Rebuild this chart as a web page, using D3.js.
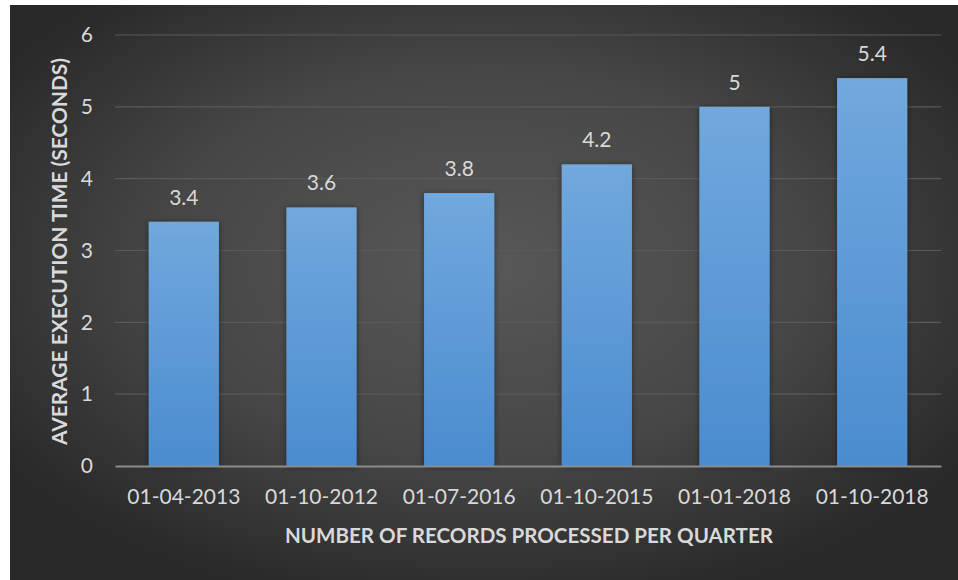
<!DOCTYPE html>
<html>
<head>
<meta charset="utf-8">
<script src="https://cdn.jsdelivr.net/npm/d3@7"></script>
<style>
  html, body { margin: 0; padding: 0; background: #ffffff; }
  svg { display: block; }
  text { font-family: Lato, "Open Sans", sans-serif; }
</style>
</head>
<body>
<svg id="chart" width="958" height="580"></svg>
<script>
// Quarterly average execution time
const categories = ["01-04-2013", "01-10-2012", "01-07-2016", "01-10-2015", "01-01-2018", "01-10-2018"];
const values = [3.4, 3.6, 3.8, 4.2, 5, 5.4];
const yTicks = [0, 1, 2, 3, 4, 5, 6];
const xTitle = "NUMBER OF RECORDS PROCESSED PER QUARTER";
const yTitle = "AVERAGE EXECUTION TIME (SECONDS)";

const svg = d3.select("#chart");
const W = 958, H = 580;
const panel = { x: 10, y: 5, w: W - 10, h: H - 5 };
const plot = { left: 115, right: 941, top: 35, bottom: 466 };

const defs = svg.append("defs");

// dark panel with a soft lighter centre
const bg = defs.append("radialGradient")
  .attr("id", "bgGrad")
  .attr("cx", "50%").attr("cy", "45%").attr("r", "62%");
bg.append("stop").attr("offset", "0%").attr("stop-color", "#585858");
bg.append("stop").attr("offset", "55%").attr("stop-color", "#464646");
bg.append("stop").attr("offset", "100%").attr("stop-color", "#282828");

const barGrad = defs.append("linearGradient")
  .attr("id", "barGrad")
  .attr("x1", 0).attr("y1", 0).attr("x2", 0).attr("y2", 1);
barGrad.append("stop").attr("offset", "0%").attr("stop-color", "#71a8dd");
barGrad.append("stop").attr("offset", "100%").attr("stop-color", "#4a8ccf");

const shadow = defs.append("filter")
  .attr("id", "barShadow")
  .attr("x", "-30%").attr("y", "-10%").attr("width", "160%").attr("height", "130%");
shadow.append("feGaussianBlur").attr("in", "SourceAlpha").attr("stdDeviation", 3).attr("result", "blur");
shadow.append("feOffset").attr("in", "blur").attr("dx", 0).attr("dy", 1).attr("result", "off");
shadow.append("feComponentTransfer").attr("in", "off").attr("result", "soft")
  .append("feFuncA").attr("type", "linear").attr("slope", 0.45);
const merge = shadow.append("feMerge");
merge.append("feMergeNode").attr("in", "soft");
merge.append("feMergeNode").attr("in", "SourceGraphic");

svg.append("rect")
  .attr("x", panel.x).attr("y", panel.y)
  .attr("width", panel.w).attr("height", panel.h)
  .attr("fill", "url(#bgGrad)");

const x = d3.scaleBand()
  .domain(categories)
  .range([plot.left, plot.right])
  .paddingInner(0.49)
  .paddingOuter(0.245);

const y = d3.scaleLinear()
  .domain([0, 6])
  .range([plot.bottom, plot.top]);

// horizontal gridlines
svg.append("g")
  .selectAll("line")
  .data(yTicks.filter(t => t > 0))
  .join("line")
  .attr("x1", plot.left).attr("x2", plot.right)
  .attr("y1", d => y(d)).attr("y2", d => y(d))
  .attr("stroke", "#5a5a5a")
  .attr("stroke-width", 1.2);

// y axis labels
const yAxis = svg.append("g")
  .attr("transform", `translate(${plot.left},0)`)
  .call(d3.axisLeft(y).tickValues(yTicks).tickSize(0).tickPadding(22).tickFormat(d3.format("d")));
yAxis.select(".domain").remove();
yAxis.selectAll("text")
  .attr("fill", "#d9d9d9")
  .style("font-size", "21px");

// bars
svg.append("g")
  .selectAll("rect")
  .data(values)
  .join("rect")
  .attr("x", (d, i) => x(categories[i]))
  .attr("y", d => y(d))
  .attr("width", x.bandwidth())
  .attr("height", d => y(0) - y(d))
  .attr("fill", "url(#barGrad)")
  .attr("filter", "url(#barShadow)");

// value labels
svg.append("g")
  .selectAll("text")
  .data(values)
  .join("text")
  .attr("x", (d, i) => x(categories[i]) + x.bandwidth() / 2)
  .attr("y", d => y(d) - 17)
  .attr("text-anchor", "middle")
  .attr("fill", "#d9d9d9")
  .style("font-size", "21px")
  .text(d => d);

// baseline / x axis
const xAxis = svg.append("g")
  .attr("transform", `translate(0,${plot.bottom})`)
  .call(d3.axisBottom(x).tickSize(0).tickPadding(23));
xAxis.select(".domain")
  .attr("stroke", "#8c8c8c")
  .attr("stroke-width", 2);
xAxis.selectAll("text")
  .attr("fill", "#d9d9d9")
  .style("font-size", "21px");

// axis titles
svg.append("text")
  .attr("x", (285 + 773) / 2)
  .attr("y", 543)
  .attr("text-anchor", "middle")
  .attr("fill", "#d9d9d9")
  .attr("textLength", 488)
  .attr("lengthAdjust", "spacingAndGlyphs")
  .style("font-size", "20px")
  .style("font-weight", "bold")
  .text(xTitle);

svg.append("text")
  .attr("transform", `translate(67,${(58 + 445) / 2}) rotate(-90)`)
  .attr("text-anchor", "middle")
  .attr("fill", "#d9d9d9")
  .attr("textLength", 387)
  .attr("lengthAdjust", "spacingAndGlyphs")
  .style("font-size", "20px")
  .style("font-weight", "bold")
  .text(yTitle);
</script>
</body>
</html>
